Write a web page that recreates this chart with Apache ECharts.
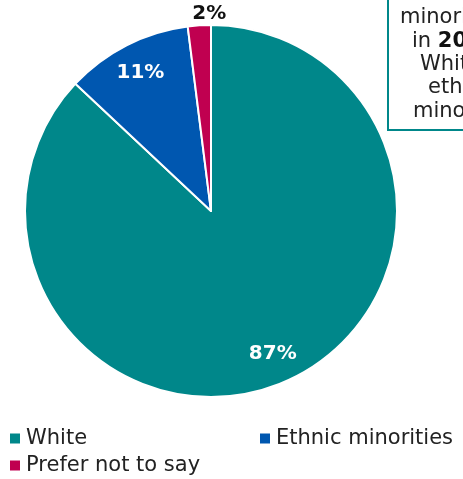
<!DOCTYPE html>
<html>
<head>
<meta charset="utf-8">
<script src="https://cdn.jsdelivr.net/npm/echarts@6/dist/echarts.min.js"></script>
<style>html,body{margin:0;padding:0;background:#fff;}#c{width:463px;height:479px;}</style>
</head>
<body>
<div id="c"></div>
<script>
const categories = ['White', 'Ethnic minorities', 'Prefer not to say'];
const values = [87, 11, 2];
const colors = ['#00878A', '#0057B0', '#C00050'];
const boxLines = ['minorities', 'in {b|2021}', 'White', 'ethnic', 'minority'];

const FONT = 'DejaVu Sans';
const chart = echarts.init(document.getElementById('c'), null, {renderer: 'canvas'});

const pieData = categories.map((c, i) => ({
  name: c, value: values[i],
  itemStyle: {color: colors[i]},
  label: i === 2 ? {show: true, position: 'outside', formatter: '{c}%', color: '#111', fontWeight: 'bold', fontSize: 20, fontFamily: FONT}
                 : {show: false},
  labelLine: {show: false, length: 2, length2: 0}
}));

const overlayData = categories.map((c, i) => ({
  name: c, value: values[i],
  itemStyle: {color: 'rgba(0,0,0,0)'},
  label: {show: i !== 2}
}));

const legendText = {fontFamily: FONT, fontSize: 21, color: '#222'};
const legendBase = {orient: 'horizontal', itemWidth: 12, itemHeight: 12, itemGap: 8, icon: 'rect', textStyle: legendText, selectedMode: false};

chart.setOption({
  animation: false,
  legend: [
    Object.assign({data: [categories[0]], left: 3, top: 423}, legendBase),
    Object.assign({data: [categories[1]], left: 253, top: 423}, legendBase),
    Object.assign({data: [categories[2]], left: 3, top: 450}, legendBase)
  ],
  graphic: [
    {type: 'rect', shape: {x: 388, y: -5, width: 100, height: 135}, style: {fill: '#fff', stroke: '#00878A', lineWidth: 2}, z: 10},
    ...boxLines.map((t, i) => ({
      type: 'text', z: 11,
      style: {x: [400, 412, 420, 428, 413][i], y: [18, 42, 65, 88, 112][i], text: t, fill: '#222',
              font: '21px "' + FONT + '"', textVerticalAlign: 'middle',
              rich: {b: {fontWeight: 'bold', fontSize: 21, fontFamily: FONT, fill: '#111'}}}
    }))
  ],
  series: [
    {
      type: 'pie', center: [211, 211], radius: 186, startAngle: 90, clockwise: true,
      itemStyle: {borderColor: '#fff', borderWidth: 2},
      data: pieData,
      labelLayout: function (p) { if (p.dataIndex === 2) return {dx: 15, dy: -10, align: 'center'}; }
    },
    {
      type: 'pie', center: [211, 211], radius: [119, 186], startAngle: 90, clockwise: true, silent: true,
      label: {position: 'inside', formatter: '{c}%', color: '#fff', fontWeight: 'bold', fontSize: 20, fontFamily: FONT},
      labelLine: {show: false},
      data: overlayData, z: 3
    }
  ]
});
</script>
</body>
</html>
